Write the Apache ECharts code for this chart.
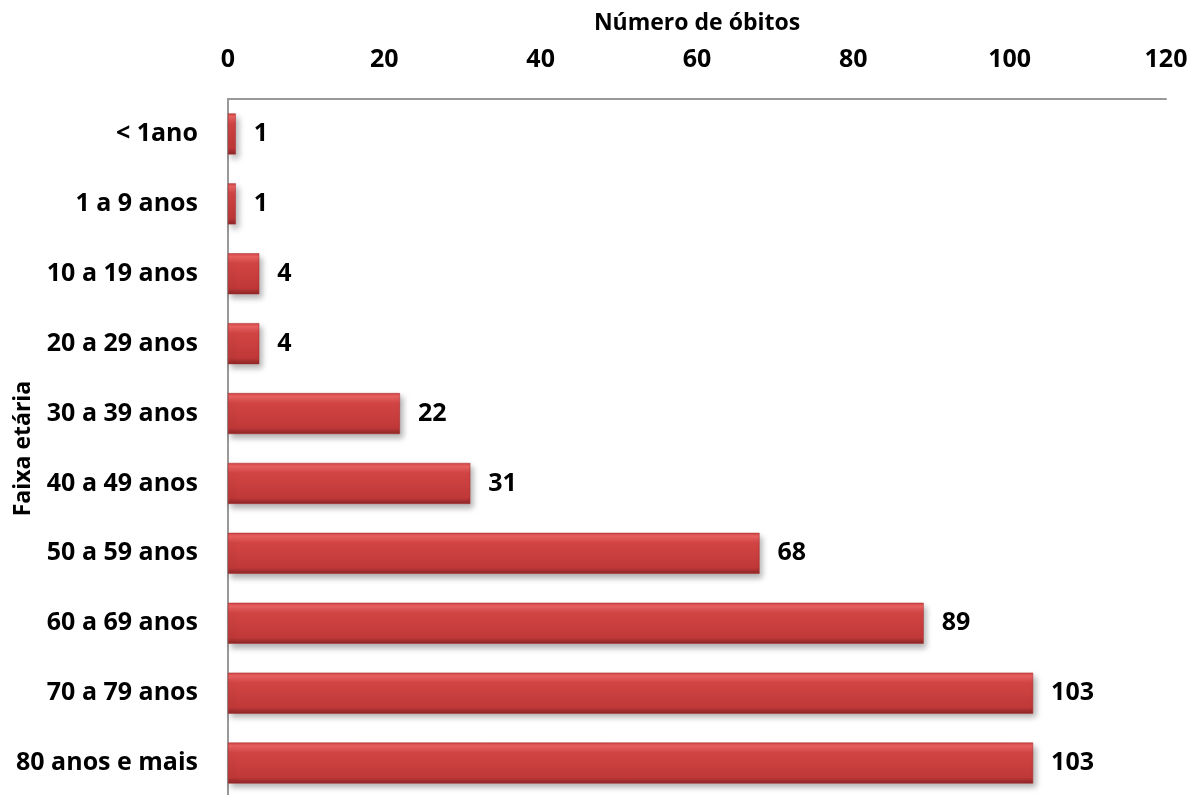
<!DOCTYPE html>
<html><head><meta charset="utf-8">
<script src="https://cdn.jsdelivr.net/npm/echarts@6/dist/echarts.min.js"></script>
<style>html,body{margin:0;padding:0;background:#fff}#c{width:1197px;height:795px}</style>
</head><body><div id="c"></div>
<script>
const categories = ['< 1ano','1 a 9 anos','10 a 19 anos','20 a 29 anos','30 a 39 anos','40 a 49 anos','50 a 59 anos','60 a 69 anos','70 a 79 anos','80 anos e mais'];
const obitos = [1,1,4,4,22,31,68,89,103,103];
const xTicks = [0,20,40,60,80,100,120];

const FONT = '"Open Sans", sans-serif';
const chart = echarts.init(document.getElementById('c'));
chart.setOption({
  animation: false,
  grid: {left: 228, right: 31, top: 99, bottom: -3, containLabel: false, outerBoundsMode: 'none'},
  xAxis: {
    type: 'value', position: 'top', min: xTicks[0], max: xTicks[xTicks.length-1], interval: 20,
    name: 'Número de óbitos', nameLocation: 'middle', nameGap: 64, nameMoveOverlap: false,
    nameTextStyle: {fontFamily: FONT, fontWeight: 'bold', fontSize: 23, color: '#000'},
    axisLine: {show: true, lineStyle: {color: '#999', width: 2}},
    axisTick: {show: false},
    splitLine: {show: false},
    axisLabel: {margin: 27, fontFamily: FONT, fontWeight: 'bold', fontSize: 25, color: '#000'}
  },
  yAxis: {
    type: 'category', inverse: true, data: categories,
    name: 'Faixa etária', nameLocation: 'middle', nameGap: 193, nameRotate: 90, nameMoveOverlap: false,
    nameTextStyle: {fontFamily: FONT, fontWeight: 'bold', fontSize: 23, color: '#000'},
    axisLine: {show: true, lineStyle: {color: '#999', width: 2}},
    axisTick: {show: false},
    axisLabel: {margin: 30, fontFamily: FONT, fontWeight: 'bold', fontSize: 25, color: '#000'}
  },
  series: [{
    type: 'bar', data: obitos, barWidth: 41,
    itemStyle: {
      color: new echarts.graphic.LinearGradient(0,0,0,1,[
        {offset:0, color:'#d04040'},
        {offset:0.08, color:'#ea6262'},
        {offset:0.25, color:'#d24444'},
        {offset:0.85, color:'#c03838'},
        {offset:1, color:'#8a2626'}
      ]),
      borderColor: '#a82a2a', borderWidth: 0.5,
      shadowColor: 'rgba(0,0,0,0.3)', shadowBlur: 6, shadowOffsetX: 3, shadowOffsetY: 4
    },
    label: {show: true, position: 'right', distance: 18, fontFamily: FONT, fontWeight: 'bold', fontSize: 25, color: '#000'}
  }]
});
</script></body></html>
